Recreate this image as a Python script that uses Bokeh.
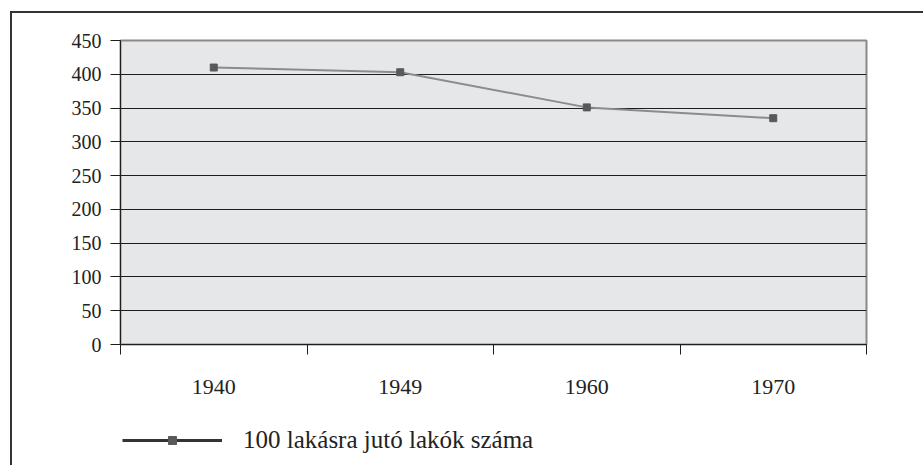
from bokeh.plotting import figure
from bokeh.layouts import column
from bokeh.models import Range1d, FixedTicker, Legend, LegendItem, ColumnDataSource
from bokeh.embed import file_html
from bokeh.resources import INLINE

years = ["1940", "1949", "1960", "1970"]
residents_per_100 = [410, 403, 351, 335]
y_ticks = [0, 50, 100, 150, 200, 250, 300, 350, 400, 450]
legend_label = "100 lakásra jutó lakók száma"

FONT = "Liberation Serif"
W = 911

xs = [i + 0.5 for i in range(len(years))]
src = ColumnDataSource(dict(x=xs, y=residents_per_100))

p = figure(width=W, height=396, output_backend="svg", toolbar_location=None,
           x_range=Range1d(0, len(years)), y_range=Range1d(0, 450),
           min_border_left=108, min_border_right=W - 108 - 746, min_border_top=27, min_border_bottom=65)

p.background_fill_color = "#e6e7e9"
p.border_fill_color = "white"
p.outline_line_color = "#8a8a8a"
p.outline_line_width = 2

p.xgrid.visible = False
p.ygrid.ticker = FixedTicker(ticks=y_ticks)
p.ygrid.grid_line_color = "#1e1e1e"
p.ygrid.grid_line_width = 1

# y axis
p.yaxis.ticker = FixedTicker(ticks=y_ticks)
p.yaxis.axis_line_color = "#1e1e1e"
p.yaxis.axis_line_width = 1
p.yaxis.major_tick_line_color = "#1e1e1e"
p.yaxis.major_tick_out = 10
p.yaxis.major_tick_in = 0
p.yaxis.minor_tick_line_color = None
p.yaxis.major_label_standoff = 9
p.yaxis.major_label_text_font = FONT
p.yaxis.major_label_text_font_size = "20px"
p.yaxis.major_label_text_color = "#222"

# x axis: labels at category centres, ticks at category boundaries
p.xaxis.ticker = FixedTicker(ticks=xs, minor_ticks=list(range(len(years) + 1)))
p.xaxis.major_label_overrides = {x: y for x, y in zip(xs, years)}
p.xaxis.axis_line_color = "#1e1e1e"
p.xaxis.major_tick_line_color = None
p.xaxis.major_tick_out = 0
p.xaxis.major_tick_in = 0
p.xaxis.minor_tick_line_color = "#1e1e1e"
p.xaxis.minor_tick_out = 10
p.xaxis.minor_tick_in = 0
p.xaxis.major_label_standoff = 25
p.xaxis.major_label_text_font = FONT
p.xaxis.major_label_text_font_size = "22px"
p.xaxis.major_label_text_color = "#222"

p.line("x", "y", source=src, line_color="#8c8c8c", line_width=2)
p.scatter("x", "y", source=src, marker="square", size=7, fill_color="#595959", line_color="#595959")

# legend in a separate strip below the chart; its proxy glyphs use the series data,
# which lies outside this strip's ranges, so only their legend swatches show
lg = figure(width=W, height=56, output_backend="svg", toolbar_location=None,
            x_range=Range1d(0, 1), y_range=Range1d(0, 1),
            x_axis_location=None, y_axis_location=None,
            min_border=0, min_border_left=0, min_border_right=0, min_border_top=0, min_border_bottom=0)
lg.grid.visible = False
lg.outline_line_color = None
lg.background_fill_color = "white"
lg_line = lg.line("x", "y", source=src, line_color="#333333", line_width=3)
lg_mark = lg.scatter("x", "y", source=src, marker="square", size=10, fill_color="#595959", line_color="#595959")

legend = Legend(items=[LegendItem(label=legend_label, renderers=[lg_line, lg_mark])],
                location=(2, 11), glyph_width=100, glyph_height=20, label_standoff=21,
                padding=0, margin=0, border_line_color=None, background_fill_alpha=0,
                label_text_font=FONT, label_text_font_size="25px", label_text_color="#222")
lg.add_layout(legend, "center")

layout = column(p, lg, spacing=0)
layout.styles = {"border-top": "2px solid #333", "border-left": "2px solid #333",
                 "margin-left": "10px", "margin-top": "11px"}

open("out.html", "w").write(file_html(layout, INLINE))
